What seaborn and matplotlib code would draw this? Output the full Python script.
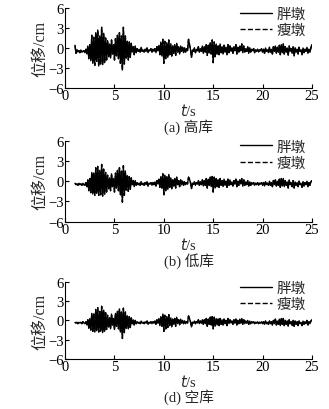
import numpy as np
import pandas as pd
import seaborn as sns
import matplotlib.pyplot as plt

# time axis, s
t = np.round(np.arange(1.0, 25.05, 0.1), 1)

# displacement (cm), 0.1 s steps from 1 s to 25 s
disp_a = [
    0.4, -0.8, -0.3, -0.6, -0.4, -0.7, -0.3, -0.6, -0.5, -0.4,
    -0.7, -0.2, -0.9, 0.3, -1.6, 0.5, -1.9, 1.9, -2.3, 1.6,
    -2.6, 2.3, -2.0, 2.7, -2.7, 1.8, -2.4, 3.1, -2.5, 2.2,
    -2.2, 1.5, -1.8, 1.1, -1.3, 0.6, -1.5, 1.2, -0.9, 0.5,
    -1.8, 1.4, -1.2, 1.9, -1.6, 2.3, -2.3, 1.8, -3.3, 3.1,
    -2.4, 1.8, -1.5, 1.0, -1.8, 0.9, -1.4, 0.7, -0.6, 0.2,
    -1.0, 0.3, -0.7, -0.1, -0.5, -0.2, -0.6, 0.1, -0.5, -0.3,
    -0.6, -0.2, -0.5, 0.0, -0.7, -0.3, -0.4, -0.1, -0.6, -0.2,
    -0.5, -0.1, -0.7, 0.2, -0.4, 0.4, -1.0, 0.9, -1.2, 1.3,
    -2.3, 1.0, -1.6, 0.8, -1.4, 1.2, -1.0, 0.6, -1.2, 0.3,
    -0.8, 0.5, -1.1, 0.7, -0.6, 0.2, -0.9, 0.3, -0.5, 0.1,
    -0.7, 0.0, -0.6, -0.1, -0.4, 1.3, 0.5, -0.2, -1.4, -0.3,
    -0.5, 0.0, -0.7, -0.2, -0.4, 0.2, -0.6, -0.1, -0.5, 0.3,
    -0.8, 0.2, -0.6, 0.5, -1.1, 0.4, -0.7, 0.8, -0.9, 1.2,
    -2.2, 0.9, -1.3, 0.6, -0.9, 0.3, -1.0, 0.6, -0.7, 0.2,
    -0.9, 0.4, -0.6, 0.1, -1.0, 0.5, -0.7, 0.3, -0.5, 0.0,
    -0.8, 0.2, -0.4, 0.5, -0.9, 0.1, -0.6, 0.3, -0.4, 0.6,
    -0.7, 0.3, -0.6, -0.1, -0.5, 0.2, -0.8, 0.0, -0.6, -0.2,
    -0.4, -0.1, -0.7, -0.3, -0.5, -0.2, -0.6, -0.3, -0.4, -0.1,
    -0.6, -0.2, -0.8, 0.0, -0.5, -0.3, -0.7, 0.1, -0.6, -0.2,
    -0.9, 0.2, -0.5, 0.3, -0.8, 0.1, -0.6, 0.4, -1.0, 0.5,
    -0.7, 0.6, -0.9, 0.2, -0.6, 0.0, -1.1, 0.3, -0.5, -0.1,
    -0.8, 0.2, -1.2, 0.0, -0.6, -0.2, -0.9, 0.1, -0.5, -0.3,
    -1.0, 0.0, -0.7, -0.2, -0.5, 0.1, -0.8, -0.2, -0.6, 0.0,
    0.5,
]
disp_b = [
    -0.3, -0.5, -0.4, -0.6, -0.3, -0.5, -0.4, -0.6, -0.3, -0.5,
    -0.6, -0.2, -0.8, 0.2, -1.4, 0.4, -1.7, 1.3, -1.9, 1.2,
    -2.1, 2.0, -1.8, 2.2, -2.1, 1.6, -2.0, 2.5, -2.2, 1.8,
    -1.9, 1.3, -1.6, 0.9, -1.1, 0.5, -1.4, 1.1, -0.8, 0.4,
    -1.6, 1.2, -1.0, 1.6, -1.4, 2.0, -2.0, 1.5, -3.1, 2.3,
    -2.1, 1.5, -1.3, 0.8, -1.5, 0.7, -1.2, 0.5, -0.5, 0.1,
    -0.8, 0.1, -0.6, -0.2, -0.5, -0.3, -0.6, -0.1, -0.5, -0.3,
    -0.6, -0.2, -0.5, -0.1, -0.7, -0.3, -0.4, -0.2, -0.6, -0.2,
    -0.5, -0.1, -0.7, 0.1, -0.4, 0.3, -0.9, 0.7, -1.0, 1.1,
    -2.0, 0.9, -1.4, 0.7, -1.2, 1.0, -0.9, 0.5, -1.1, 0.2,
    -0.7, 0.4, -1.0, 0.6, -0.5, 0.1, -0.8, 0.2, -0.5, 0.0,
    -0.6, -0.1, -0.5, -0.2, -0.4, 0.6, 0.3, -0.2, -1.1, -0.3,
    -0.5, -0.1, -0.6, -0.2, -0.4, 0.1, -0.6, -0.1, -0.5, 0.2,
    -0.7, 0.1, -0.6, 0.4, -1.0, 0.3, -0.6, 0.6, -0.8, 0.7,
    -1.6, 0.6, -1.0, 0.4, -0.8, 0.2, -0.9, 0.4, -0.6, 0.1,
    -0.8, 0.3, -0.6, 0.0, -0.9, 0.3, -0.6, 0.2, -0.5, -0.1,
    -0.7, 0.1, -0.4, 0.3, -0.8, 0.0, -0.6, 0.2, -0.4, 0.4,
    -0.7, 0.2, -0.6, -0.1, -0.5, 0.1, -0.7, -0.1, -0.6, -0.2,
    -0.4, -0.2, -0.6, -0.3, -0.5, -0.2, -0.6, -0.3, -0.4, -0.2,
    -0.6, -0.2, -0.7, -0.1, -0.5, -0.3, -0.6, 0.0, -0.6, -0.2,
    -0.8, 0.1, -0.5, 0.2, -0.7, 0.0, -0.6, 0.3, -0.9, 0.4,
    -0.7, 0.4, -0.8, 0.1, -0.6, -0.1, -1.0, 0.2, -0.5, -0.2,
    -0.8, 0.1, -1.0, -0.1, -0.6, -0.2, -0.8, 0.0, -0.5, -0.3,
    -0.9, -0.1, -0.7, -0.2, -0.5, 0.0, -0.8, -0.2, -0.6, -0.1,
    0.1,
]
disp_d = [
    -0.3, -0.4, -0.3, -0.5, -0.3, -0.4, -0.3, -0.5, -0.2, -0.4,
    -0.5, -0.2, -0.7, 0.1, -1.2, 0.3, -1.5, 1.1, -1.7, 1.0,
    -1.8, 1.7, -1.6, 2.0, -1.8, 1.4, -1.7, 2.2, -1.9, 1.6,
    -1.7, 1.2, -1.4, 0.8, -1.0, 0.4, -1.3, 1.0, -0.7, 0.3,
    -1.4, 1.1, -0.9, 1.4, -1.3, 1.8, -1.8, 1.3, -2.8, 1.9,
    -1.9, 1.3, -1.2, 0.7, -1.3, 0.6, -1.1, 0.4, -0.5, 0.1,
    -0.7, 0.0, -0.5, -0.2, -0.4, -0.3, -0.5, -0.1, -0.4, -0.3,
    -0.5, -0.2, -0.4, -0.1, -0.6, -0.3, -0.4, -0.2, -0.5, -0.2,
    -0.4, -0.1, -0.6, 0.1, -0.4, 0.3, -0.8, 0.6, -0.9, 1.0,
    -1.7, 0.8, -1.3, 0.6, -1.1, 0.9, -0.8, 0.4, -1.0, 0.2,
    -0.6, 0.3, -0.9, 0.5, -0.5, 0.1, -0.7, 0.2, -0.4, 0.0,
    -0.5, -0.1, -0.5, -0.2, -0.4, 0.7, 0.3, -0.2, -1.0, -0.3,
    -0.4, -0.1, -0.5, -0.2, -0.4, 0.1, -0.5, -0.1, -0.4, 0.1,
    -0.6, 0.1, -0.5, 0.3, -0.9, 0.2, -0.6, 0.5, -0.7, 0.6,
    -1.3, 0.5, -0.9, 0.3, -0.7, 0.2, -0.8, 0.3, -0.6, 0.1,
    -0.7, 0.2, -0.5, 0.0, -0.8, 0.3, -0.5, 0.1, -0.4, -0.1,
    -0.6, 0.1, -0.4, 0.2, -0.7, 0.0, -0.5, 0.2, -0.4, 0.3,
    -0.6, 0.1, -0.5, -0.1, -0.4, 0.0, -0.6, -0.1, -0.5, -0.2,
    -0.4, -0.2, -0.5, -0.3, -0.4, -0.2, -0.5, -0.3, -0.4, -0.2,
    -0.5, -0.2, -0.6, -0.1, -0.5, -0.3, -0.6, -0.1, -0.5, -0.2,
    -0.7, 0.0, -0.5, 0.2, -0.7, -0.1, -0.6, 0.2, -0.8, 0.3,
    -0.6, 0.3, -0.8, 0.0, -0.6, -0.1, -0.9, 0.1, -0.5, -0.2,
    -0.8, 0.0, -0.9, -0.1, -0.6, -0.2, -0.8, -0.1, -0.5, -0.3,
    -0.8, -0.1, -0.6, -0.2, -0.5, 0.0, -0.7, -0.2, -0.5, -0.1,
    0.1,
]

# the two piers overlap in the picture
fat = [disp_a, disp_b, disp_d]
thin = [list(disp_a), list(disp_b), list(disp_d)]
captions = ['(a) 高库', '(b) 低库', '(d) 空库']
series_names = ['胖墩', '瘦墩']
xticks = [0, 5, 10, 15, 20, 25]
yticks = [-6, -3, 0, 3, 6]

sns.set_style('ticks')
plt.rcParams['font.family'] = ['Liberation Serif', 'Noto Sans CJK SC']
plt.rcParams['axes.unicode_minus'] = True

fig = plt.figure(figsize=(3.29, 4.10), dpi=100)
# [left, bottom, width, height] in figure fraction
boxes = [
    [0.198, 0.783, 0.750, 0.195],
    [0.198, 0.457, 0.750, 0.197],
    [0.198, 0.122, 0.750, 0.188],
]

for i in range(3):
    ax = fig.add_axes(boxes[i])
    sns.lineplot(x=t, y=fat[i], ax=ax, color='k', lw=1.0, label=series_names[0])
    sns.lineplot(x=t, y=thin[i], ax=ax, color='k', lw=1.0, linestyle='--', label=series_names[1])
    ax.set_xlim(0, 25)
    ax.set_ylim(-6, 6)
    ax.set_xticks(xticks)
    ax.set_yticks(yticks)
    ax.tick_params(direction='in', length=3, width=0.8, labelsize=10.5, pad=1, colors='k')
    for s in ['top', 'right']:
        ax.spines[s].set_visible(False)
    for s in ['left', 'bottom']:
        ax.spines[s].set_linewidth(0.8)
        ax.spines[s].set_color('k')
    ax.set_ylabel('位移/cm', fontsize=11.5, labelpad=0)
    ax.set_xlabel('$t$/s', fontsize=10.5, labelpad=0)
    ax.text(0.5, -0.48, captions[i], transform=ax.transAxes, ha='center', va='center', fontsize=10.5)
    ax.legend(loc='upper right', frameon=False, fontsize=10.5, handlelength=2.2,
              handletextpad=0.3, borderaxespad=0.0, labelspacing=0.2,
              bbox_to_anchor=(1.0, 1.08))

fig.savefig('out.png', dpi=100)
